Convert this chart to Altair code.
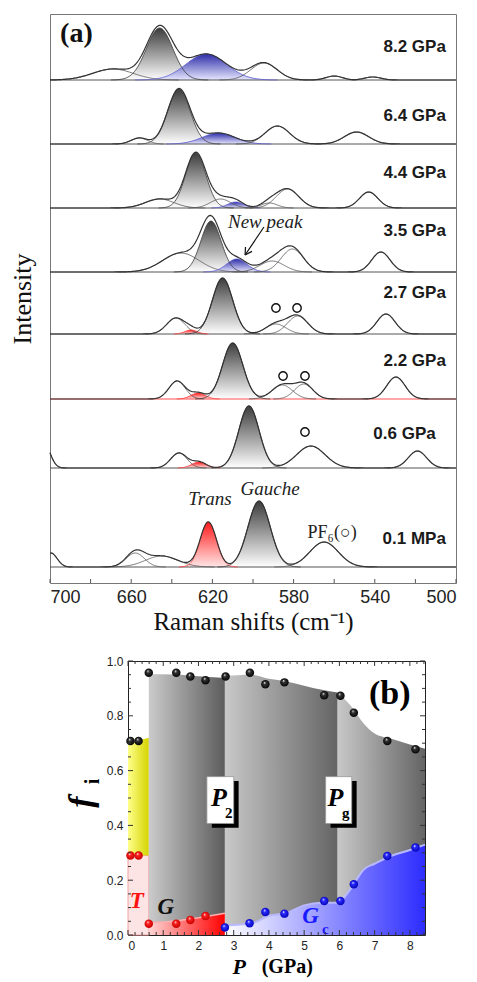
import altair as alt
import numpy as np
import pandas as pd

# ================= Panel (a): Raman spectra =================
spectrum_labels = ["8.2 GPa", "6.4 GPa", "4.4 GPa", "3.5 GPa", "2.7 GPa", "2.2 GPa", "0.6 GPa", "0.1 MPa"]
spectrum_offsets = [503, 439, 375, 311, 249, 184, 115, 16]
label_x = [505, 505, 505, 505, 505, 505, 510, 505]
label_y = [536, 467, 410, 352, 290, 222, 149, 44]
baseline_colors = ["#555", "#555", "#555", "#555", "#555", "#ff5050", "#555", "#555"]

# fitted bands: (centre cm-1, height, sigma, kind)  g=gauche, b=new (blue), r=trans (red), c=other
peaks_82 = [(669, 11, 10, "c"), (646, 52, 6.5, "g"), (623, 26, 10, "b"), (594.6, 17, 6.5, "c"), (560, 4, 4, "c"), (541, 3, 4, "c")]
peaks_64 = [(656, 6, 4, "c"), (636.5, 55, 5.5, "g"), (617, 11, 8, "b"), (588, 18, 6, "c"), (549, 12, 6, "c")]
peaks_44 = [(646, 9, 7, "c"), (628.2, 55, 5, "g"), (616, 9, 5, "c"), (608.5, 6, 4, "b"), (592, 5, 4, "c"), (583, 19, 5.5, "c"), (543, 16, 4.5, "c")]
peaks_35 = [(635.5, 19, 9, "c"), (620.7, 51, 5, "g"), (608, 13, 5, "b"), (590.6, 11, 6, "c"), (580.6, 23, 5.5, "c"), (537, 20, 4.5, "c")]
peaks_27 = [(638, 16, 4.5, "c"), (630.5, 4, 3, "r"), (615, 56, 5, "g"), (588.7, 10, 5, "c"), (578, 18, 5, "c"), (534.5, 20, 4.5, "c")]
peaks_22 = [(637.4, 18, 4, "c"), (627, 6, 3.5, "r"), (610, 56, 5, "g"), (585.6, 14, 5, "c"), (575, 15, 4.5, "c"), (529.6, 22, 4.5, "c")]
peaks_06 = [(703, 25, 3, "c"), (636.5, 15, 4, "c"), (626.6, 6, 3.5, "r"), (602, 62, 5, "g"), (571.5, 22, 7, "c"), (519, 17, 4.5, "c")]
peaks_01 = [(699.5, 14, 3, "c"), (658, 14, 4.5, "c"), (645, 11, 8, "c"), (622, 45, 4, "r"), (597, 66, 5.5, "g"), (565, 25, 7, "c")]
all_peaks = [peaks_82, peaks_64, peaks_44, peaks_35, peaks_27, peaks_22, peaks_06, peaks_01]

circle_x = [588.7, 578.3, 585.2, 574.4, 574.4]
circle_y = [275, 275, 207, 207, 151]

xs = np.round(np.arange(500, 700.01, 0.5), 2)
env_rows, comp_rows = [], []
for lab, off, peaks in zip(spectrum_labels, spectrum_offsets, all_peaks):
    total = np.zeros_like(xs)
    for k, (c, h, s, kind) in enumerate(peaks):
        g = h * np.exp(-0.5 * ((xs - c) / s) ** 2)
        total += g
        m = g > 0.05
        for xv, gv in zip(xs[m], g[m]):
            comp_rows.append({"cid": f"{lab}-{k}", "kind": kind, "x": float(xv),
                              "lo": off, "hi": round(off + float(gv), 2)})
    for xv, tv in zip(xs, total):
        env_rows.append({"spec": lab, "x": float(xv), "hi": round(off + float(tv), 2)})
env_df = pd.DataFrame(env_rows)
comp_df = pd.DataFrame(comp_rows)
line_col = {"c": "#555555", "g": "#3a3a3a", "b": "#5a5ad0", "r": "#ff4040"}
comp_df["lc"] = comp_df["kind"].map(line_col)

W_A, H_A = 406, 569
sx_a = alt.Scale(domain=[500, 700], reverse=True, nice=False, zero=False)
sy_a = alt.Scale(domain=[0, 569], nice=False, zero=False)


def XA(field="x"):
    return alt.X(f"{field}:Q", scale=sx_a,
                 axis=alt.Axis(values=[700, 660, 620, 580, 540, 500], format="d", ticks=False, domain=False,
                               grid=False, labelFont="Liberation Sans", labelFontSize=18, labelColor="#222",
                               labelPadding=5, title="Raman shifts (cm⁻¹)", titleFont="Liberation Serif",
                               titleFontSize=25, titleFontWeight="normal", titleColor="#111", titlePadding=3))


def YA(field="hi"):
    return alt.Y(f"{field}:Q", scale=sy_a,
                 axis=alt.Axis(labels=False, ticks=False, domain=False, grid=False, title="Intensity",
                               titleFont="Liberation Serif", titleFontSize=26, titleFontWeight="normal",
                               titleColor="#111", titlePadding=15))


def vgrad(top, bottom):
    return alt.Gradient(gradient="linear", x1=0, x2=0, y1=1, y2=0,
                        stops=[alt.GradientStop(color=bottom, offset=0),
                               alt.GradientStop(color=top, offset=1)])


base_df = pd.DataFrame({"hi": spectrum_offsets, "col": baseline_colors})
baselines = alt.Chart(base_df).mark_rule(strokeWidth=1).encode(
    y=YA("hi"), x=alt.value(0), x2=alt.value(W_A), color=alt.Color("col:N", scale=None))


def comp_area(kind, top, bottom):
    return alt.Chart(comp_df[comp_df["kind"] == kind]).mark_area(
        fill=vgrad(top, bottom), interpolate="monotone").encode(
        x=XA(), y=YA("hi"), y2="lo:Q", detail="cid:N")


g_area = comp_area("g", "#3c3c3c", "#ffffff")
b_area = comp_area("b", "#2e2ea8", "#e6e6ff")
r_area = comp_area("r", "#ff1a1a", "#ffe6e6")

comp_lines = alt.Chart(comp_df).mark_line(strokeWidth=0.8).encode(
    x=XA(), y=YA("hi"), detail="cid:N", color=alt.Color("lc:N", scale=None))
env_lines = alt.Chart(env_df).mark_line(strokeWidth=1.2, color="#333").encode(
    x=XA(), y=YA("hi"), detail="spec:N")

tick_a_df = pd.DataFrame({"x": [700, 680, 660, 640, 620, 600, 580, 560, 540, 520, 500]})
ticks_a = alt.Chart(tick_a_df).mark_rule(color="#555").encode(
    x=XA(), y=alt.value(H_A), y2=alt.value(H_A - 4))

lab_df = pd.DataFrame({"x": label_x, "hi": label_y, "t": spectrum_labels})
labels_a = alt.Chart(lab_df).mark_text(align="right", baseline="middle", font="Liberation Sans",
                                       fontWeight="bold", fontSize=17, color="#1a1a1a").encode(
    x=XA(), y=YA("hi"), text="t:N")

ann_serif_it = pd.DataFrame({"x": [594, 621.2, 591.6], "hi": [361, 84, 94], "t": ["New peak", "Trans", "Gauche"]})
txt_it = alt.Chart(ann_serif_it).mark_text(font="Liberation Serif", fontStyle="italic", fontSize=19,
                                           color="#222", baseline="middle").encode(x=XA(), y=YA("hi"), text="t:N")
pf_df = pd.DataFrame({"x": [561], "hi": [50], "t": ["PF₆(○)"]})
txt_pf = alt.Chart(pf_df).mark_text(font="Liberation Serif", fontSize=18, color="#222",
                                    baseline="middle").encode(x=XA(), y=YA("hi"), text="t:N")
a_df = pd.DataFrame({"x": [687], "hi": [549], "t": ["(a)"]})
txt_a = alt.Chart(a_df).mark_text(font="Liberation Serif", fontWeight="bold", fontSize=28, color="#111",
                                  baseline="middle").encode(x=XA(), y=YA("hi"), text="t:N")

circ_df = pd.DataFrame({"x": circle_x, "hi": circle_y})
circles = alt.Chart(circ_df).mark_point(shape="circle", filled=False, color="#111", size=70,
                                        strokeWidth=1.4, opacity=1).encode(x=XA(), y=YA("hi"))

arrow_df = pd.DataFrame({"x": [594.6, 603.9, 603.9], "x2": [603.9, 600.5, 603.7],
                         "hi": [356, 328, 328], "hi2": [328, 331.6, 336]})
arrow = alt.Chart(arrow_df).mark_rule(color="#111", strokeWidth=1.2).encode(
    x=XA(), x2="x2:Q", y=YA("hi"), y2="hi2:Q")

panel_a = alt.layer(g_area, b_area, r_area, baselines, comp_lines, env_lines, ticks_a, labels_a,
                    txt_it, txt_pf, txt_a, circles, arrow).properties(
    width=W_A, height=H_A, view=alt.ViewBackground(stroke="#777", strokeWidth=1))

# ================= Panel (b): fractions vs pressure =================
P_black = [0.07, 0.3, 0.59, 1.37, 1.77, 2.2, 2.77, 3.46, 3.9, 4.44, 5.57, 6.03, 6.41, 7.36, 8.16]
f_black = [0.708, 0.708, 0.957, 0.957, 0.943, 0.93, 0.943, 0.957, 0.915, 0.922, 0.875, 0.873, 0.811, 0.708, 0.678]
P_red = [0.07, 0.3, 0.59, 1.37, 1.77, 2.2]
f_red = [0.29, 0.29, 0.041, 0.041, 0.055, 0.069]
P_blue = [2.75, 3.45, 3.9, 4.44, 5.57, 6.03, 6.41, 7.36, 8.16]
f_blue = [0.027, 0.043, 0.084, 0.078, 0.124, 0.124, 0.185, 0.288, 0.319]

regA_x = [0.59, 1.0, 1.5, 2.0, 2.75]
regA_top = [0.952, 0.952, 0.95, 0.944, 0.938]
regA_bot = [0.045, 0.047, 0.054, 0.063, 0.079]
regB_x = [2.75, 3.5, 4.0, 4.5, 5.0, 5.5, 5.95]
regB_top = [0.945, 0.95, 0.935, 0.925, 0.91, 0.895, 0.885]
regB_bot = [0.035, 0.042, 0.07, 0.08, 0.108, 0.118, 0.118]
regC_x = [5.95, 6.3, 6.7, 7.0, 7.5, 8.0, 8.43]
regC_top = [0.884, 0.84, 0.77, 0.735, 0.715, 0.695, 0.68]
regC_bot = [0.12, 0.165, 0.24, 0.26, 0.29, 0.31, 0.33]
yel_x = [0.0, 0.59]
yel_top = [0.70, 0.72]
T_edge = 0.29

W_B, H_B = 297, 274
sx_b = alt.Scale(domain=[0, 8.43], nice=False, zero=False)
sy_b = alt.Scale(domain=[0, 1], nice=False, zero=False)


def XB(field="p"):
    return alt.X(f"{field}:Q", scale=sx_b,
                 axis=alt.Axis(values=[0, 1, 2, 3, 4, 5, 6, 7, 8], format="d", ticks=False, domain=False,
                               grid=False, labelFont="Liberation Sans", labelFontSize=12, labelColor="#222",
                               labelPadding=5, title=None))


def YB(field="f"):
    return alt.Y(f"{field}:Q", scale=sy_b,
                 axis=alt.Axis(values=[0, 0.2, 0.4, 0.6, 0.8, 1.0], format=".1f", ticks=False, domain=False,
                               grid=False, labelFont="Liberation Sans", labelFontSize=12, labelColor="#222",
                               labelPadding=5, title=None))


def hgrad(left, right):
    return alt.Gradient(gradient="linear", x1=0, x2=1, y1=0, y2=0,
                        stops=[alt.GradientStop(color=left, offset=0),
                               alt.GradientStop(color=right, offset=1)])


def band(xv, top, bot, fill, interp="linear"):
    d = pd.DataFrame({"p": xv, "f": top, "f2": bot})
    return alt.Chart(d).mark_area(fill=fill, interpolate=interp).encode(x=XB(), y=YB(), y2="f2:Q")


pink = alt.Chart(pd.DataFrame({"p": [0.0], "p2": [0.59], "f": [0.0], "f2": [T_edge]})).mark_rect(
    color="#fde4e4", stroke="#f2a0a0", strokeWidth=1).encode(x=XB(), x2="p2:Q", y=YB(), y2="f2:Q")
yellow = band(yel_x, yel_top, [T_edge, T_edge], hgrad("#ffff8c", "#d4d400"))
redA = band(regA_x, regA_bot, [0] * len(regA_x), hgrad("#ffd6d6", "#ff0000"))
grayA = band(regA_x, regA_top, regA_bot, hgrad("#cbcbcb", "#5c5c5c"))
grayB = band(regB_x, regB_top, regB_bot, hgrad("#c8c8c8", "#646464"), "monotone")
grayC = band(regC_x, regC_top, regC_bot, hgrad("#c8c8c8", "#646464"), "monotone")
blue_x = regB_x + regC_x[1:]
blue_f = regB_bot + regC_bot[1:]
blueA = band(blue_x, blue_f, [0] * len(blue_x), hgrad("#ffffff", "#2d2dff"), "monotone")
blue_line = alt.Chart(pd.DataFrame({"p": blue_x, "f": blue_f})).mark_line(
    color="#b8b8ff", strokeWidth=2, interpolate="monotone").encode(x=XB(), y=YB())
red_line = alt.Chart(pd.DataFrame({"p": regA_x, "f": regA_bot})).mark_line(
    color="#ffb0b0", strokeWidth=1.5).encode(x=XB(), y=YB())


def ball(color_mid, color_dark):
    return alt.Gradient(gradient="radial", x1=0.38, y1=0.3, r1=0, x2=0.5, y2=0.5, r2=0.55,
                        stops=[alt.GradientStop(color="#ffffff", offset=0),
                               alt.GradientStop(color=color_mid, offset=0.3),
                               alt.GradientStop(color=color_dark, offset=1)])


def dots(px, fy, mid, dark):
    return alt.Chart(pd.DataFrame({"p": px, "f": fy})).mark_circle(
        size=72, opacity=1, fill=ball(mid, dark)).encode(x=XB(), y=YB())


dots_k = dots(P_black, f_black, "#333333", "#000000")
dots_r = dots(P_red, f_red, "#ff2020", "#c00000")
dots_b = dots(P_blue, f_blue, "#2a2aff", "#0000b0")

# P2 / Pg boxes
box_df = pd.DataFrame({"p": [2.24, 5.61], "p2": [3.0, 6.35], "f": [0.407, 0.407], "f2": [0.578, 0.578]})
shadow_df = pd.DataFrame({"p": [2.38, 5.75], "p2": [3.14, 6.49], "f": [0.391, 0.391], "f2": [0.562, 0.562]})
shadow = alt.Chart(shadow_df).mark_rect(color="#000").encode(x=XB(), x2="p2:Q", y=YB(), y2="f2:Q")
boxes = alt.Chart(box_df).mark_rect(color="#ffffff", stroke="#999", strokeWidth=0.8).encode(
    x=XB(), x2="p2:Q", y=YB(), y2="f2:Q")
bigP = alt.Chart(pd.DataFrame({"p": [2.58, 5.89], "f": [0.501, 0.501], "t": ["P", "P"]})).mark_text(
    font="Liberation Serif", fontWeight="bold", fontStyle="italic", fontSize=26, color="#000",
    baseline="middle").encode(x=XB(), y=YB(), text="t:N")
subP = alt.Chart(pd.DataFrame({"p": [2.86, 6.18], "f": [0.447, 0.447], "t": ["2", "g"]})).mark_text(
    font="Liberation Serif", fontWeight="bold", fontSize=15, color="#000",
    baseline="middle").encode(x=XB(), y=YB(), text="t:N")

txt_b = alt.Chart(pd.DataFrame({"p": [7.43], "f": [0.88], "t": ["(b)"]})).mark_text(
    font="Liberation Serif", fontWeight="bold", fontSize=34, color="#000", baseline="middle").encode(
    x=XB(), y=YB(), text="t:N")
big_labels = alt.Chart(pd.DataFrame({"p": [0.25, 1.07, 5.18], "f": [0.124, 0.104, 0.07],
                                     "t": ["T", "G", "G"], "c": ["#ff1010", "#111111", "#1a1aff"]})).mark_text(
    font="Liberation Serif", fontWeight="bold", fontStyle="italic", fontSize=23, baseline="middle").encode(
    x=XB(), y=YB(), text="t:N", color=alt.Color("c:N", scale=None))
sub_c = alt.Chart(pd.DataFrame({"p": [5.6], "f": [0.022], "t": ["c"]})).mark_text(
    font="Liberation Serif", fontWeight="bold", fontSize=15, color="#1a1aff", baseline="middle").encode(
    x=XB(), y=YB(), text="t:N")

# axis titles drawn as text (italic + subscript)
f_title = alt.Chart(pd.DataFrame({"p": [-1.3], "f": [0.485], "t": ["f"]})).mark_text(
    font="Liberation Serif", fontWeight="bold", fontStyle="italic", fontSize=34, angle=270, color="#000",
    baseline="middle").encode(x=XB(), y=YB(), text="t:N")
i_title = alt.Chart(pd.DataFrame({"p": [-0.98], "f": [0.56], "t": ["i"]})).mark_text(
    font="Liberation Serif", fontWeight="bold", fontSize=20, angle=270, color="#000",
    baseline="middle").encode(x=XB(), y=YB(), text="t:N")
p_title = alt.Chart(pd.DataFrame({"p": [3.16], "f": [-0.118], "t": ["P"]})).mark_text(
    font="Liberation Serif", fontWeight="bold", fontStyle="italic", fontSize=22, color="#000",
    baseline="middle").encode(x=XB(), y=YB(), text="t:N")
gpa_title = alt.Chart(pd.DataFrame({"p": [4.52], "f": [-0.118], "t": ["(GPa)"]})).mark_text(
    font="Liberation Serif", fontWeight="bold", fontSize=20, color="#000",
    baseline="middle").encode(x=XB(), y=YB(), text="t:N")

# inward ticks on all four sides
xb_major = [0, 1, 2, 3, 4, 5, 6, 7, 8]
xb_minor = [round(v, 1) for v in np.arange(0.2, 8.42, 0.2) if abs(v - round(v)) > 1e-6]
yb_major = [0, 0.2, 0.4, 0.6, 0.8, 1.0]
yb_minor = [round(v, 3) for v in np.arange(0.05, 1.0, 0.05) if abs(v * 5 - round(v * 5)) > 1e-6]


def xticks(vals, length):
    d = pd.DataFrame({"p": vals})
    bot = alt.Chart(d).mark_rule(color="#333").encode(x=XB(), y=alt.value(H_B), y2=alt.value(H_B - length))
    top = alt.Chart(d).mark_rule(color="#333").encode(x=XB(), y=alt.value(0), y2=alt.value(length))
    return [bot, top]


def yticks(vals, length):
    d = pd.DataFrame({"f": vals})
    left = alt.Chart(d).mark_rule(color="#333").encode(y=YB(), x=alt.value(0), x2=alt.value(length))
    right = alt.Chart(d).mark_rule(color="#333").encode(y=YB(), x=alt.value(W_B), x2=alt.value(W_B - length))
    return [left, right]


tick_layers = xticks(xb_major, 5) + xticks(xb_minor, 3) + yticks(yb_major, 5) + yticks(yb_minor, 3)

panel_b = alt.layer(pink, yellow, redA, grayA, grayB, grayC, blueA, blue_line, red_line,
                    shadow, boxes, bigP, subP, dots_k, dots_r, dots_b, txt_b, big_labels, sub_c,
                    f_title, i_title, p_title, gpa_title, *tick_layers).properties(
    width=W_B, height=H_B, view=alt.ViewBackground(stroke="#222", strokeWidth=1))

spacer = alt.Chart(pd.DataFrame({"z": [0]})).mark_point(opacity=0).encode(
    x=alt.value(0), y=alt.value(0)).properties(width=14, height=10, view=alt.ViewBackground(strokeWidth=0))

chart = alt.vconcat(panel_a, alt.hconcat(spacer, panel_b, spacing=0), spacing=19).properties(
    padding={"left": 0, "top": 5, "right": 5, "bottom": 5}).configure_view(
    strokeWidth=0).configure(background="white")

chart.save("out.html", embed_options={"renderer": "svg", "actions": False})
